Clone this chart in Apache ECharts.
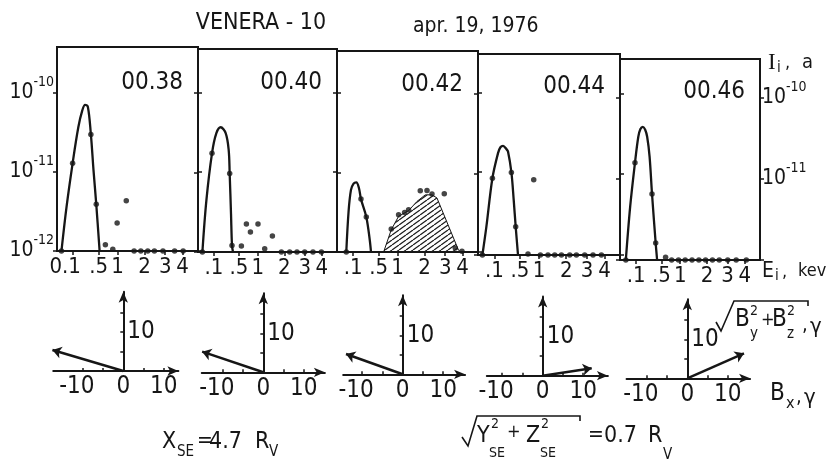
<!DOCTYPE html>
<html>
<head>
<meta charset="utf-8">
<script src="https://cdn.jsdelivr.net/npm/echarts@6/dist/echarts.min.js"></script>
<style>
html, body { margin: 0; padding: 0; background: #fff; }
#chart { width: 831px; height: 466px; }
</style>
</head>
<body>
<div id="chart"></div>
<script>
// energy axis of the spectra is drawn in sqrt(E); labels are energies in keV
const energyTicks = [0.1, 0.5, 1, 2, 3, 4];
const energyLabels = ['.1', '.5', '1', '2', '3', '4'];
const currentTicks = [1e-12, 1e-11, 1e-10];
const currentTicksRight = [1e-11, 1e-10];
const times = ['00.38', '00.40', '00.42', '00.44', '00.46'];

// [E keV, I_i A] — fitted curve and measured points, one set per spectrum
const curve38 = [[0.0184, 1e-12], [0.0457, 3.6e-12], [0.0944, 1.28e-11], [0.156, 3.65e-11], [0.209, 6.0e-11], [0.249, 7.0e-11], [0.293, 6.65e-11], [0.346, 2.97e-11], [0.395, 1.05e-11], [0.450, 3.9e-12], [0.522, 1e-12]];
const dots38 = [[0.0184, 1e-12], [0.0944, 1.28e-11], [0.346, 2.97e-11], [0.450, 3.9e-12], [0.658, 1.2e-12], [0.856, 1.05e-12], [0.984, 2.26e-12], [1.283, 4.3e-12], [1.57, 1e-12], [1.84, 1e-12], [2.14, 1e-12], [2.45, 1e-12], [2.88, 1e-12], [3.52, 1e-12], [4.03, 1e-12]];

const curve40 = [[0.0184, 1e-12], [0.0393, 4.47e-12], [0.0815, 1.73e-11], [0.125, 3.09e-11], [0.177, 3.67e-11], [0.249, 3.09e-11], [0.298, 1.9e-11], [0.315, 9.66e-12], [0.339, 3.0e-12], [0.357, 1.21e-12], [0.376, 1e-12]];
const dots40 = [[0.0184, 1e-12], [0.0815, 1.73e-11], [0.315, 9.66e-12], [0.357, 1.21e-12], [0.554, 1.19e-12], [0.676, 2.24e-12], [0.783, 1.78e-12], [1.006, 2.24e-12], [1.227, 1.1e-12], [1.508, 1.59e-12], [1.872, 1e-12], [2.243, 1e-12], [2.597, 1e-12], [2.999, 1e-12], [3.464, 1e-12], [3.969, 1e-12]];

const curve42 = [[0.0441, 1e-12], [0.0602, 3.24e-12], [0.0795, 6.0e-12], [0.1036, 7.2e-12], [0.1324, 7.45e-12], [0.164, 6.3e-12], [0.190, 4.6e-12], [0.268, 2.75e-12], [0.325, 1.43e-12], [0.348, 1e-12]];
const hatch42 = [[0.615, 1e-12], [0.813, 1.9e-12], [1.029, 2.8e-12], [1.365, 3.3e-12], [1.683, 4.3e-12], [2.03, 5.2e-12], [2.335, 5.2e-12], [2.576, 4.75e-12], [3.752, 1.05e-12], [3.897, 1e-12]];
const dots42 = [[0.0441, 1e-12], [0.190, 4.6e-12], [0.268, 2.75e-12], [0.813, 1.94e-12], [1.029, 2.93e-12], [1.225, 3.13e-12], [1.365, 3.39e-12], [1.817, 5.86e-12], [2.106, 5.9e-12], [2.335, 5.33e-12], [2.949, 5.37e-12], [3.558, 1.12e-12], [3.958, 1.02e-12]];

const curve44 = [[0.018, 1e-12], [0.0381, 2.24e-12], [0.0824, 8.9e-12], [0.139, 1.82e-11], [0.168, 2.15e-11], [0.202, 2.24e-11], [0.251, 2.04e-11], [0.276, 1.9e-11], [0.333, 1.05e-11], [0.375, 4.8e-12], [0.413, 2.24e-12], [0.460, 1e-12]];
const dots44 = [[0.018, 1e-12], [0.0824, 8.9e-12], [0.333, 1.05e-11], [0.413, 2.24e-12], [0.69, 1.03e-12], [0.843, 8.5e-12], [1.04, 1e-12], [1.29, 1e-12], [1.535, 1e-12], [1.80, 1e-12], [2.155, 1e-12], [2.465, 1e-12], [2.88, 1e-12], [3.327, 1e-12], [3.81, 1e-12]];

const curve46 = [[0.0247, 1e-12], [0.0506, 4.57e-12], [0.0894, 1.58e-11], [0.123, 3.3e-11], [0.147, 4.1e-11], [0.177, 4.37e-11], [0.209, 4.03e-11], [0.238, 3.3e-11], [0.276, 1.88e-11], [0.317, 6.5e-12], [0.384, 1.62e-12], [0.412, 1e-12]];
const dots46 = [[0.0247, 1e-12], [0.0894, 1.58e-11], [0.317, 6.5e-12], [0.384, 1.62e-12], [0.598, 1.08e-12], [0.752, 1e-12], [0.947, 1e-12], [1.16, 1e-12], [1.399, 1e-12], [1.661, 1e-12], [1.94, 1e-12], [2.247, 1e-12], [2.576, 1e-12], [3.014, 1e-12], [3.486, 1e-12], [4.097, 1e-12]];

// magnetic field vectors, gamma: Bx and sqrt(By^2 + Bz^2)
const fieldBx = [-17.5, -15.1, -14.0, 12.1, 14.0];
const fieldBperp = [5.4, 5.3, 5.2, 1.9, 6.4];

const spectra = [
  { curve: curve38, dots: dots38 },
  { curve: curve40, dots: dots40 },
  { curve: curve42, dots: dots42, hatch: hatch42 },
  { curve: curve44, dots: dots44 },
  { curve: curve46, dots: dots46 }
];

const FONT = "'DejaVu Sans Condensed','DejaVu Sans',sans-serif";
const INK = '#161616';

// layout of the five spectra (scan is slightly tilted)
const topL = [57, 198, 337, 478, 620, 760];
const topT = [47, 49, 51, 54, 59];
const topB = [251, 252, 252, 255, 260];
const yMax = [3.77e-10, 3.52e-10, 3.3e-10, 3.06e-10, 2.99e-10];
const sMin = 0.067, sMax = 2.236;

// layout of the five field diagrams
const bOx = [123.3, 263.3, 402.7, 542.7, 687.3];
const bOy = [371, 372.3, 374.3, 375.7, 378.3];
const bMin = [-17.3, -15.2, -14.7, -13.8, -15];
const bMax = [13.6, 15.2, 15.4, 16.1, 15.5];
const bTop = 20.3, pxX = 4.05, pxY = 3.9;

const tickS = energyTicks.map(Math.sqrt);
const toAxis = pts => pts.map(p => [Math.sqrt(p[0]), p[1]]);

function hatchPattern() {
  const c = document.createElement('canvas');
  c.width = 7; c.height = 5;
  const g = c.getContext('2d');
  g.strokeStyle = '#1a1a1a';
  g.lineWidth = 1.2;
  [-7, 0, 7].forEach(dx => {
    g.beginPath(); g.moveTo(dx, 5); g.lineTo(dx + 7, 0); g.stroke();
  });
  return c;
}

const powRich = {
  b: { fontSize: 21, fontFamily: FONT, color: INK, padding: [7, 0, 7, 0] },
  s: { fontSize: 14, fontFamily: FONT, color: INK, verticalAlign: 'top' }
};
const powLabel = v => '{b|10}{s|' + Math.round(Math.log10(v)) + '}';

const grids = [], xAxes = [], yAxes = [], series = [];

for (let i = 0; i < 5; i++) {
  grids.push({
    left: topL[i], top: topT[i], width: topL[i + 1] - topL[i], height: topB[i] - topT[i],
    show: true, borderColor: INK, borderWidth: 2, backgroundColor: 'transparent',
    outerBoundsMode: 'none'
  });
  xAxes.push({
    type: 'value', gridIndex: i, min: sMin, max: sMax,
    axisLine: { show: true, onZero: false, lineStyle: { color: INK, width: 2 } },
    axisTick: { show: true, customValues: tickS, length: 4, lineStyle: { color: INK, width: 1.5 } },
    axisLabel: {
      customValues: tickS, margin: 5, color: INK, fontSize: 22, fontFamily: FONT,
      formatter: v => {
        const k = tickS.findIndex(t => Math.abs(t - v) < 1e-6);
        if (i === 0 && k === 0) return '{w|0.1}';
        return energyLabels[k];
      },
      rich: { w: { fontSize: 22, fontFamily: FONT, color: INK, padding: [0, 16, 0, 0] } }
    },
    splitLine: { show: false }
  });
  ['left', 'right'].forEach(side => {
    yAxes.push({
      type: 'log', gridIndex: i, position: side, min: 1e-12, max: yMax[i],
      axisLine: { show: true, lineStyle: { color: INK, width: 2 } },
      axisTick: { show: true, customValues: currentTicks, length: 4, lineStyle: { color: INK, width: 1.5 } },
      axisLabel: {
        show: side === 'left' ? i === 0 : i === 4,
        customValues: side === 'left' ? currentTicks : currentTicksRight,
        margin: side === 'left' ? 3 : 2,
        formatter: powLabel, rich: powRich
      },
      splitLine: { show: false }
    });
  });

  const sp = spectra[i];
  if (sp.hatch) {
    series.push({
      type: 'line', xAxisIndex: i, yAxisIndex: 2 * i, data: toAxis(sp.hatch),
      showSymbol: false, silent: true,
      lineStyle: { color: INK, width: 1 },
      areaStyle: { origin: 'start', opacity: 1, color: { image: hatchPattern(), repeat: 'repeat' } }
    });
  }
  series.push({
    type: 'line', xAxisIndex: i, yAxisIndex: 2 * i, data: toAxis(sp.curve),
    smooth: 0.35, showSymbol: false, silent: true,
    lineStyle: { color: INK, width: 2.3 }
  });
  series.push({
    type: 'scatter', xAxisIndex: i, yAxisIndex: 2 * i, data: toAxis(sp.dots),
    symbolSize: 5.5, clip: false, silent: true, itemStyle: { color: INK }
  });
}

for (let i = 0; i < 5; i++) {
  const gi = 5 + i;
  grids.push({
    left: bOx[i] + bMin[i] * pxX, top: bOy[i] - bTop * pxY,
    width: (bMax[i] - bMin[i]) * pxX, height: bTop * pxY,
    show: false, outerBoundsMode: 'none'
  });
  xAxes.push({
    type: 'value', gridIndex: gi, min: bMin[i], max: bMax[i],
    axisLine: { show: true, onZero: false, symbol: ['none', 'arrow'], symbolSize: [7, 11], lineStyle: { color: INK, width: 2 } },
    axisTick: { show: true, customValues: [-10, -5, 5, 10], inside: true, length: 3, lineStyle: { color: INK, width: 1.5 } },
    axisLabel: {
      customValues: [-10, 0, 10], margin: 4, color: INK, fontSize: 24, fontFamily: FONT,
      formatter: v => v < 0 ? '{n|' + v + '}' : String(v),
      rich: { n: { fontSize: 24, fontFamily: FONT, color: INK, padding: [0, 12, 0, 0] } }
    },
    splitLine: { show: false }
  });
  // vertical axis sits at Bx = 0: shift it in from the grid's left edge
  yAxes.push({
    type: 'value', gridIndex: gi, min: 0, max: bTop, position: 'left', offset: bMin[i] * pxX,
    axisLine: { show: true, onZero: false, symbol: ['none', 'arrow'], symbolSize: [7, 11], lineStyle: { color: INK, width: 2 } },
    axisTick: { show: true, customValues: [5, 10, 15], inside: false, length: 3, lineStyle: { color: INK, width: 1.5 } },
    axisLabel: { customValues: [10], inside: true, margin: 4, color: INK, fontSize: 24, fontFamily: FONT },
    splitLine: { show: false }
  });
  series.push({
    type: 'lines', coordinateSystem: 'cartesian2d', xAxisIndex: gi, yAxisIndex: 10 + i,
    data: [{ coords: [[0, 0], [fieldBx[i], fieldBperp[i]]] }],
    symbol: ['none', 'arrow'], symbolSize: 9, clip: false, silent: true, z: 5,
    lineStyle: { color: INK, width: 2.5, opacity: 1 }
  });
}

// text pieces of the figure
function txt(x, y, s, size, align, family) {
  return {
    type: 'text', x: x, y: y, silent: true,
    style: {
      text: s, fontSize: size, fontFamily: family || FONT, fill: INK,
      align: align || 'left', verticalAlign: 'middle',
      textAlign: align || 'left', textVerticalAlign: 'middle'
    }
  };
}
function stroke(points) {
  return { type: 'polyline', silent: true, shape: { points: points }, style: { stroke: INK, lineWidth: 1.6, fill: null } };
}

const graphics = [
  txt(261, 23, 'VENERA - 10', 23, 'center'),
  txt(413, 27, 'apr. 19, 1976', 21, 'left'),
  txt(768, 63, 'I', 23, 'left', "'Liberation Serif','DejaVu Serif',serif"),
  txt(777, 68, 'i', 15, 'left'),
  txt(785, 63, ',', 18, 'left'),
  txt(802, 63, 'a', 20, 'left'),
  txt(762, 272, 'E', 21, 'left'),
  txt(775, 276, 'i', 15, 'left'),
  txt(782, 272, ',', 18, 'left'),
  txt(798, 271, 'kev', 18, 'left'),
  // Bx, gamma
  txt(770, 394, 'B', 24, 'left'),
  txt(786, 404, 'x', 16, 'left'),
  txt(796, 398, ',', 20, 'left'),
  txt(804, 398, 'γ', 22, 'left'),
  // sqrt(By^2 + Bz^2), gamma
  stroke([[716, 322], [721, 331], [734, 301], [808, 301], [808, 306]]),
  txt(735, 320, 'B', 24, 'left'),
  txt(750, 311, '2', 14, 'left'),
  txt(750, 334, 'y', 15, 'left'),
  txt(761, 320, '+', 18, 'left'),
  txt(772, 320, 'B', 24, 'left'),
  txt(787, 311, '2', 14, 'left'),
  txt(787, 334, 'z', 15, 'left'),
  txt(802, 326, ',', 20, 'left'),
  txt(810, 327, 'γ', 22, 'left'),
  // X_SE = 4.7 R_V
  txt(162, 442, 'X', 23, 'left'),
  txt(177, 452, 'SE', 15, 'left'),
  txt(197, 442, '=', 21, 'left'),
  txt(209, 442, '4.7', 23, 'left'),
  txt(255, 442, 'R', 23, 'left'),
  txt(269, 452, 'V', 15, 'left'),
  // sqrt(Y_SE^2 + Z_SE^2) = 0.7 R_V
  stroke([[462, 437], [468, 446], [477, 416], [580, 416], [580, 421]]),
  txt(477, 436, 'Y', 23, 'left'),
  txt(491, 424, '2', 14, 'left'),
  txt(489, 453, 'SE', 14, 'left'),
  txt(507, 432, '+', 18, 'left'),
  txt(526, 436, 'Z', 23, 'left'),
  txt(541, 424, '2', 14, 'left'),
  txt(540, 453, 'SE', 14, 'left'),
  txt(588, 436, '=', 21, 'left'),
  txt(604, 436, '0.7', 23, 'left'),
  txt(648, 436, 'R', 23, 'left'),
  txt(663, 455, 'V', 15, 'left')
];
const timeY = [83, 83, 85, 87, 92];
times.forEach((t, i) => graphics.push(txt(topL[i + 1] - 15, timeY[i], t, 24, 'right')));

const chart = echarts.init(document.getElementById('chart'));
chart.setOption({
  backgroundColor: '#fff',
  animation: false,
  grid: grids,
  xAxis: xAxes,
  yAxis: yAxes,
  series: series,
  graphic: { elements: graphics }
});
</script>
</body>
</html>
